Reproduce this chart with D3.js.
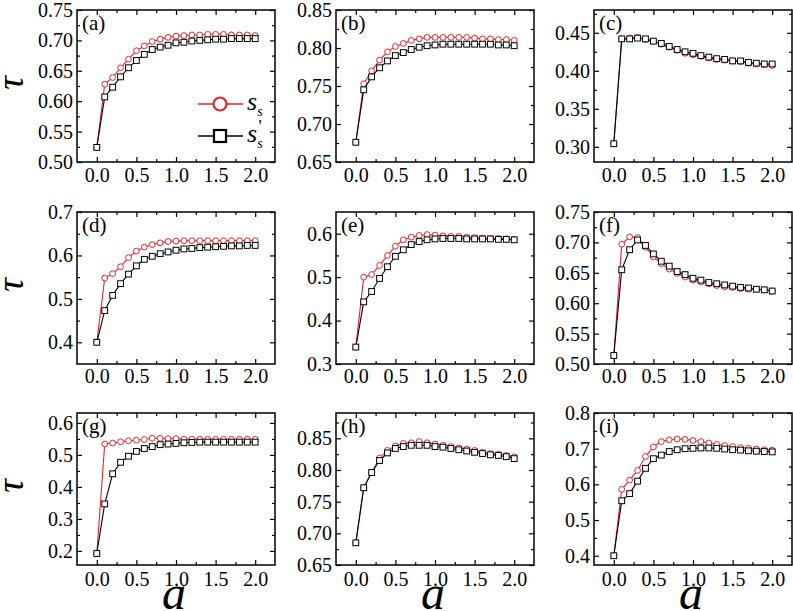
<!DOCTYPE html>
<html>
<head>
<meta charset="utf-8">
<script src="https://cdn.jsdelivr.net/npm/d3@7"></script>
<style>
  html, body { margin: 0; padding: 0; background: #fff; }
  svg { display: block; }
  .tick text { font-family: "Liberation Serif", "Times New Roman", serif; font-size: 20px; fill: #000; }
</style>
</head>
<body>
<svg id="chart" width="793" height="611"></svg>
<script>
// ---------------- data ----------------
const aValues = [0.0,0.1,0.2,0.3,0.4,0.5,0.6,0.7,0.8,0.9,1.0,1.1,1.2,1.3,1.4,1.5,1.6,1.7,1.8,1.9,2.0];
const xTickValues = [0.0, 0.5, 1.0, 1.5, 2.0];
const xMinorTicks = [0.25, 0.75, 1.25, 1.75];

const panelLabels = ["(a)","(b)","(c)","(d)","(e)","(f)","(g)","(h)","(i)"];

const ssA  = [0.524,0.628,0.639,0.655,0.669,0.683,0.691,0.698,0.702,0.705,0.707,0.708,0.709,0.709,0.710,0.710,0.710,0.709,0.709,0.709,0.708];
const ss2A = [0.524,0.607,0.623,0.640,0.655,0.667,0.677,0.685,0.689,0.692,0.696,0.697,0.699,0.700,0.701,0.702,0.702,0.703,0.703,0.703,0.703];

const ssB  = [0.676,0.753,0.770,0.784,0.795,0.802,0.806,0.810,0.812,0.814,0.814,0.814,0.814,0.814,0.814,0.813,0.812,0.812,0.811,0.811,0.810];
const ss2B = [0.676,0.745,0.762,0.774,0.783,0.790,0.794,0.798,0.801,0.803,0.804,0.805,0.805,0.805,0.805,0.805,0.805,0.805,0.804,0.804,0.803];

const ssC  = [0.304,0.442,0.443,0.444,0.441,0.439,0.435,0.431,0.427,0.423,0.421,0.419,0.417,0.415,0.414,0.413,0.412,0.410,0.409,0.408,0.407];
const ss2C = [0.304,0.442,0.442,0.443,0.442,0.439,0.436,0.432,0.428,0.425,0.423,0.420,0.418,0.416,0.415,0.413,0.413,0.411,0.410,0.409,0.409];

const ssD  = [0.400,0.548,0.558,0.574,0.595,0.610,0.619,0.625,0.629,0.632,0.633,0.634,0.634,0.634,0.634,0.634,0.634,0.634,0.634,0.634,0.634];
const ss2D = [0.400,0.473,0.508,0.535,0.557,0.576,0.591,0.598,0.604,0.608,0.612,0.615,0.616,0.618,0.619,0.620,0.621,0.622,0.622,0.623,0.623];

const ssE  = [0.339,0.500,0.506,0.527,0.550,0.571,0.586,0.592,0.596,0.598,0.597,0.595,0.594,0.594,0.592,0.591,0.590,0.589,0.589,0.588,0.587];
const ss2E = [0.339,0.443,0.467,0.497,0.524,0.548,0.563,0.575,0.582,0.586,0.588,0.589,0.589,0.589,0.588,0.588,0.588,0.588,0.587,0.587,0.586];

const ssF  = [0.514,0.697,0.709,0.708,0.692,0.676,0.665,0.656,0.649,0.643,0.638,0.635,0.632,0.629,0.627,0.626,0.624,0.623,0.623,0.622,0.620];
const ss2F = [0.514,0.655,0.688,0.704,0.695,0.681,0.669,0.661,0.652,0.647,0.641,0.638,0.634,0.632,0.630,0.628,0.626,0.625,0.623,0.622,0.620];

const ssG  = [0.192,0.534,0.537,0.541,0.544,0.546,0.548,0.552,0.552,0.551,0.551,0.549,0.549,0.549,0.549,0.549,0.549,0.549,0.549,0.549,0.549];
const ss2G = [0.192,0.347,0.441,0.477,0.496,0.511,0.520,0.526,0.532,0.534,0.536,0.538,0.539,0.540,0.540,0.540,0.540,0.540,0.540,0.540,0.540];

const ssH  = [0.685,0.772,0.796,0.819,0.831,0.838,0.842,0.843,0.845,0.843,0.841,0.839,0.837,0.835,0.833,0.831,0.828,0.826,0.825,0.823,0.821];
const ss2H = [0.685,0.772,0.796,0.815,0.827,0.834,0.837,0.839,0.839,0.839,0.837,0.836,0.834,0.832,0.830,0.828,0.826,0.824,0.823,0.821,0.818];

const ssI  = [0.400,0.586,0.612,0.639,0.678,0.705,0.720,0.725,0.727,0.726,0.723,0.720,0.716,0.712,0.709,0.706,0.703,0.701,0.699,0.697,0.696];
const ss2I = [0.400,0.554,0.574,0.609,0.645,0.672,0.682,0.692,0.697,0.700,0.701,0.702,0.702,0.701,0.699,0.697,0.696,0.694,0.693,0.692,0.691];

const ssSeries  = [ssA, ssB, ssC, ssD, ssE, ssF, ssG, ssH, ssI];
const ss2Series = [ss2A, ss2B, ss2C, ss2D, ss2E, ss2F, ss2G, ss2H, ss2I];

const yDomains = [[0.50,0.75],[0.65,0.85],[0.28,0.48],[0.35,0.70],[0.30,0.65],[0.50,0.75],[0.156,0.631],[0.65,0.89],[0.374,0.80]];
const yTickValues = [
  [0.50,0.55,0.60,0.65,0.70,0.75],
  [0.65,0.70,0.75,0.80,0.85],
  [0.30,0.35,0.40,0.45],
  [0.4,0.5,0.6,0.7],
  [0.3,0.4,0.5,0.6],
  [0.50,0.55,0.60,0.65,0.70,0.75],
  [0.2,0.3,0.4,0.5,0.6],
  [0.65,0.70,0.75,0.80,0.85],
  [0.4,0.5,0.6,0.7,0.8]
];
const yMinorTicks = [
  [0.525,0.575,0.625,0.675,0.725],
  [0.675,0.725,0.775,0.825],
  [0.325,0.375,0.425,0.475],
  [0.45,0.55,0.65],
  [0.35,0.45,0.55],
  [0.525,0.575,0.625,0.675,0.725],
  [0.25,0.35,0.45,0.55],
  [0.675,0.725,0.775,0.825,0.875],
  [0.45,0.55,0.65,0.75]
];
const yDecimals = [2,2,2,1,1,2,1,2,1];

const legendLabels = ["s", "s"];
const legendSubs = ["s", "s"];
const legendPrimes = ["", "'"];

// ---------------- layout ----------------
const RED = "#e2252b";
const SERIF = "Liberation Serif, Times New Roman, serif";
const colLeft = [77, 336, 594];
const rowTop = [10, 212, 413];
const W = 198, H = 152;
const xLabelPad = [6, 5, 7];

const svg = d3.select("#chart");

for (let p = 0; p < 9; p++) {
  const r = Math.floor(p / 3), c = p % 3;
  const g = svg.append("g").attr("transform", `translate(${colLeft[c]},${rowTop[r]})`);
  const x = d3.scaleLinear().domain([-0.25, 2.25]).range([0, W]);
  const y = d3.scaleLinear().domain(yDomains[p]).range([H, 0]);

  const fmt = d3.format("." + yDecimals[p] + "f");
  g.append("g").attr("transform", `translate(0,${H})`)
    .call(d3.axisBottom(x).tickValues(xTickValues).tickFormat(d3.format(".1f")).tickSize(-5).tickPadding(xLabelPad[r]));
  g.append("g").attr("transform", `translate(0,${H})`)
    .call(d3.axisBottom(x).tickValues(xMinorTicks).tickFormat("").tickSize(-3));
  g.append("g").call(d3.axisTop(x).tickValues(xTickValues).tickFormat("").tickSize(-5));
  g.append("g").call(d3.axisTop(x).tickValues(xMinorTicks).tickFormat("").tickSize(-3));

  g.append("g").call(d3.axisLeft(y).tickValues(yTickValues[p]).tickFormat(fmt).tickSize(-5).tickPadding(4));
  g.append("g").call(d3.axisLeft(y).tickValues(yMinorTicks[p]).tickFormat("").tickSize(-3));
  g.append("g").attr("transform", `translate(${W},0)`)
    .call(d3.axisRight(y).tickValues(yTickValues[p]).tickFormat("").tickSize(-5));
  g.append("g").attr("transform", `translate(${W},0)`)
    .call(d3.axisRight(y).tickValues(yMinorTicks[p]).tickFormat("").tickSize(-3));

  g.selectAll(".domain").remove();
  g.selectAll(".tick line").attr("stroke", "#000").attr("stroke-width", 1.2);
  g.selectAll(".tick text").attr("font-family", SERIF).attr("font-size", 20);

  g.append("rect").attr("x", 0).attr("y", 0).attr("width", W).attr("height", H)
    .attr("fill", "none").attr("stroke", "#000").attr("stroke-width", 1.5);

  const line = d3.line().x((d, i) => x(aValues[i])).y(d => y(d));

  // red series (s_s)
  g.append("path").datum(ssSeries[p]).attr("d", line)
    .attr("fill", "none").attr("stroke", RED).attr("stroke-width", 1.1);
  g.selectAll(".ptR").data(ssSeries[p]).enter().append("circle")
    .attr("cx", (d, i) => x(aValues[i])).attr("cy", d => y(d)).attr("r", 2.9)
    .attr("fill", "#fff").attr("stroke", RED).attr("stroke-width", 1);

  // black series (s_s')
  g.append("path").datum(ss2Series[p]).attr("d", line)
    .attr("fill", "none").attr("stroke", "#000").attr("stroke-width", 1.1);
  g.selectAll(".ptK").data(ss2Series[p]).enter().append("rect")
    .attr("x", (d, i) => x(aValues[i]) - 2.9).attr("y", d => y(d) - 2.9)
    .attr("width", 5.8).attr("height", 5.8)
    .attr("fill", "#fff").attr("stroke", "#000").attr("stroke-width", 1);

  // panel label
  g.append("text").attr("x", 5).attr("y", 20)
    .attr("font-family", SERIF)
    .attr("font-size", 21).text(panelLabels[p]);

  // legend in panel (a)
  if (p === 0) {
    const lg = g.append("g");
    const ly = [94, 126];
    const cols = [RED, "#000"];
    for (let k = 0; k < 2; k++) {
      lg.append("line").attr("x1", 121).attr("x2", 166).attr("y1", ly[k]).attr("y2", ly[k])
        .attr("stroke", cols[k]).attr("stroke-width", 1.5);
      if (k === 0) {
        lg.append("circle").attr("cx", 143).attr("cy", ly[k]).attr("r", 6.5)
          .attr("fill", "#fff").attr("stroke", RED).attr("stroke-width", 2.2);
      } else {
        lg.append("rect").attr("x", 137).attr("y", ly[k] - 6).attr("width", 12).attr("height", 12)
          .attr("fill", "#fff").attr("stroke", "#000").attr("stroke-width", 2.2);
      }
      const t = lg.append("text").attr("x", 170).attr("y", ly[k] + 6)
        .attr("font-family", SERIF)
        .attr("font-style", "italic").attr("font-size", 26);
      t.append("tspan").text(legendLabels[k]);
      t.append("tspan").attr("font-size", 14).attr("dy", 6).text(legendSubs[k]);
      if (legendPrimes[k]) {
        t.append("tspan").attr("font-size", 18).attr("font-style", "normal").attr("dx", -4).attr("dy", -15).text(legendPrimes[k]);
      }
    }
  }
}

// y-axis titles (tau)
for (let r = 0; r < 3; r++) {
  svg.append("text")
    .attr("transform", `translate(23,${rowTop[r] + H / 2 - 3}) rotate(-90)`)
    .attr("text-anchor", "middle")
    .attr("font-family", SERIF)
    .attr("font-style", "italic").attr("font-size", 38).text("τ");
}
// x-axis titles (a)
for (let c = 0; c < 3; c++) {
  svg.append("text")
    .attr("x", colLeft[c] + W / 2 - 2).attr("y", 609)
    .attr("text-anchor", "middle")
    .attr("font-family", SERIF)
    .attr("font-style", "italic").attr("font-size", 48).text("a");
}
</script>
</body>
</html>
